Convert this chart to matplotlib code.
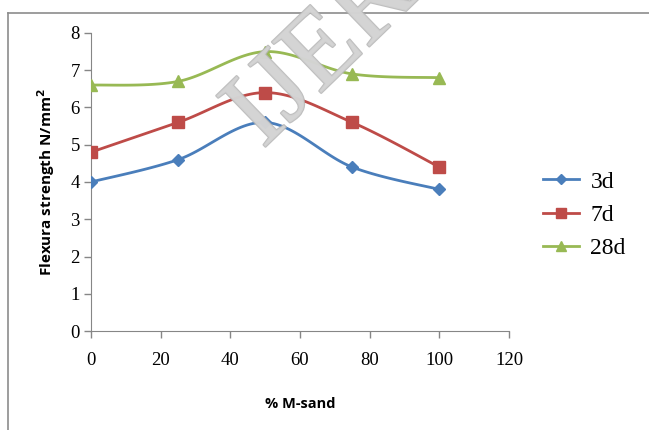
import matplotlib
matplotlib.use('Agg')
import matplotlib.pyplot as plt
import matplotlib.patheffects as pe
from matplotlib.lines import Line2D
import numpy as np

# percentage of M-sand in the mix
msand = [0, 25, 50, 75, 100]

# flexural strength (N/mm2) at each curing age
f3d = [4.0, 4.6, 5.6, 4.4, 3.8]
f7d = [4.8, 5.6, 6.4, 5.6, 4.4]
f28d = [6.6, 6.7, 7.5, 6.9, 6.8]

series_names = ['3d', '7d', '28d']
colores = ['#4A7EBB', '#BE4B48', '#98B954']
marcas = ['D', 's', '^']
tamanos = [6.5, 8, 8.5]


def suavizar(x, y, n=30):
    # curva tipo Excel: bezier cubica entre puntos consecutivos
    x = np.asarray(x, float)
    y = np.asarray(y, float)
    px = np.concatenate([[x[0]], x, [x[-1]]])
    py = np.concatenate([[y[0]], y, [y[-1]]])
    xs, ys = [], []
    t = np.linspace(0, 1, n)
    for i in range(1, len(px) - 2):
        p0 = np.array([px[i], py[i]])
        p3 = np.array([px[i + 1], py[i + 1]])
        p1 = p0 + (p3 - np.array([px[i - 1], py[i - 1]])) / 6
        p2 = p3 - (np.array([px[i + 2], py[i + 2]]) - p0) / 6
        b = ((1 - t) ** 3)[:, None] * p0 + (3 * (1 - t) ** 2 * t)[:, None] * p1 \
            + (3 * (1 - t) * t ** 2)[:, None] * p2 + (t ** 3)[:, None] * p3
        xs.extend(b[:, 0])
        ys.extend(b[:, 1])
    return xs, ys


fig = plt.figure(figsize=(6.49, 4.30), dpi=100)
ax = fig.add_axes([0.1402, 0.2302, 0.6441, 0.6931])

# marco del grafico
gris = '#8c8c8c'
fig.add_artist(Line2D([8 / 649, 8 / 649], [0, 1 - 13 / 430], color=gris, lw=1.2))
fig.add_artist(Line2D([8 / 649, 1], [1 - 13 / 430, 1 - 13 / 430], color=gris, lw=1.2))

for datos, nombre, c, m, s in zip([f3d, f7d, f28d], series_names, colores, marcas, tamanos):
    sx, sy = suavizar(msand, datos)
    ax.plot(sx, sy, color=c, lw=2.0, zorder=3)
    ax.plot(msand, datos, linestyle='none', marker=m, color=c, markersize=s, zorder=4)

ax.set_xlim(0, 120)
ax.set_ylim(0, 8)
ax.set_xticks(range(0, 121, 20))
ax.set_yticks(range(0, 9))
for lado in ['top', 'right']:
    ax.spines[lado].set_visible(False)
for lado in ['left', 'bottom']:
    ax.spines[lado].set_color('#868686')
ax.tick_params(direction='out', length=5, color='#868686', width=1,
               labelsize=13.5, pad=3)
ax.tick_params(axis='x', pad=10)
for lbl in ax.get_xticklabels() + ax.get_yticklabels():
    lbl.set_family('Liberation Serif')

ax.set_xlabel('% M-sand', fontsize=10.5, fontweight='bold', family='Open Sans', labelpad=20)
ax.set_ylabel('Flexura strength N/mm$^\\mathbf{2}$', fontsize=11, fontweight='bold',
              family='Open Sans', labelpad=10)

# leyenda
handles = [Line2D([], [], color=c, lw=2.0, marker=m, markersize=s * 0.85)
           for c, m, s in zip(colores, marcas, tamanos)]
fig.legend(handles, series_names, loc='upper left', bbox_to_anchor=(0.837, 0.602),
           frameon=False, prop={'family': 'Liberation Serif', 'size': 17},
           handlelength=1.5, labelspacing=0.5, handletextpad=0.5,
           borderpad=0, borderaxespad=0)

# marca de agua
fig.text(0.530, 0.919, 'IJERT', rotation=44, ha='center', va='center',
         fontsize=78, family='Liberation Serif', color='#d4d4d4', alpha=0.85,
         zorder=10,
         path_effects=[pe.withStroke(linewidth=1.5, foreground='#b4b4b4')])

fig.savefig('out.png', dpi=100)
